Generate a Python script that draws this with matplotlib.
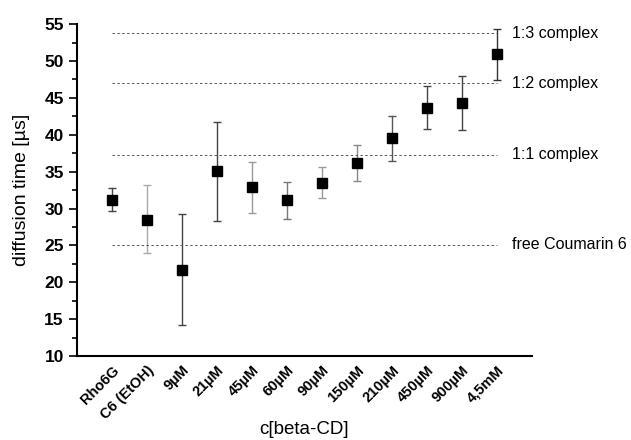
import numpy as np
import matplotlib.pyplot as plt
from matplotlib.ticker import MultipleLocator

plt.rcParams['font.family'] = ['Liberation Sans', 'DejaVu Sans']

# data
labels = ['Rho6G', 'C6 (EtOH)', '9µM', '21µM', '45µM', '60µM', '90µM',
          '150µM', '210µM', '450µM', '900µM', '4,5mM']
means = [31.2, 28.5, 21.7, 35.1, 32.9, 31.1, 33.5, 36.2, 39.5, 43.7, 44.3, 50.9]
lower = [29.6, 24.0, 14.2, 28.3, 29.4, 28.6, 31.4, 33.7, 36.4, 40.8, 40.7, 47.4]
upper = [32.8, 33.2, 29.2, 41.8, 36.3, 33.6, 35.6, 38.6, 42.6, 46.6, 48.0, 54.3]
err_colors = ['#444444', '#aaaaaa', '#444444', '#444444', '#999999', '#777777',
              '#999999', '#888888', '#555555', '#444444', '#444444', '#333333']

ref_values = [53.8, 47.0, 37.3, 25.1]
ref_labels = ['1:3 complex', '1:2 complex', '1:1 complex', 'free Coumarin 6']

fig = plt.figure(figsize=(6.31, 4.40), dpi=100)
ax = fig.add_axes([0.122, 0.191, 0.721, 0.754])

x = np.arange(1, len(labels) + 1)
for xi, m, lo, hi, c in zip(x, means, lower, upper, err_colors):
    ax.errorbar(xi, m, yerr=[[m - lo], [hi - m]], fmt='none', ecolor=c,
                elinewidth=1.0, capsize=3, capthick=1.0)
ax.plot(x, means, 's', color='black', markersize=7, zorder=3)

for v, lab in zip(ref_values, ref_labels):
    ax.plot([1, 12], [v, v], linestyle=(0, (2.5, 2.5)), color='#555555', linewidth=0.7)
    ax.text(12.42, v, lab, fontsize=11.5, va='center', ha='left', clip_on=False)

ax.set_xlim(0, 13)
ax.set_ylim(10, 55)
ax.set_xticks(x)
ax.set_xticklabels(labels, rotation=45, ha='right', rotation_mode='anchor',
                   fontsize=10.5, fontweight='bold')
ax.tick_params(axis='x', length=0, pad=5)
ax.yaxis.set_major_locator(MultipleLocator(5))
ax.yaxis.set_minor_locator(MultipleLocator(2.5))
ax.tick_params(axis='y', which='major', length=6, width=1.2, labelsize=12.5)
ax.tick_params(axis='y', which='minor', length=3.5, width=1.2)
for lab in ax.get_yticklabels():
    lab.set_fontweight('bold')

ax.spines['top'].set_visible(False)
ax.spines['right'].set_visible(False)
ax.spines['left'].set_linewidth(1.5)
ax.spines['bottom'].set_linewidth(1.5)

ax.set_ylabel('diffusion time [µs]', fontsize=14, labelpad=10)
ax.set_xlabel('c[beta-CD]', fontsize=13.5, va='center')
ax.xaxis.set_label_coords(0.5, -0.223)

plt.savefig('out.png', dpi=100)
